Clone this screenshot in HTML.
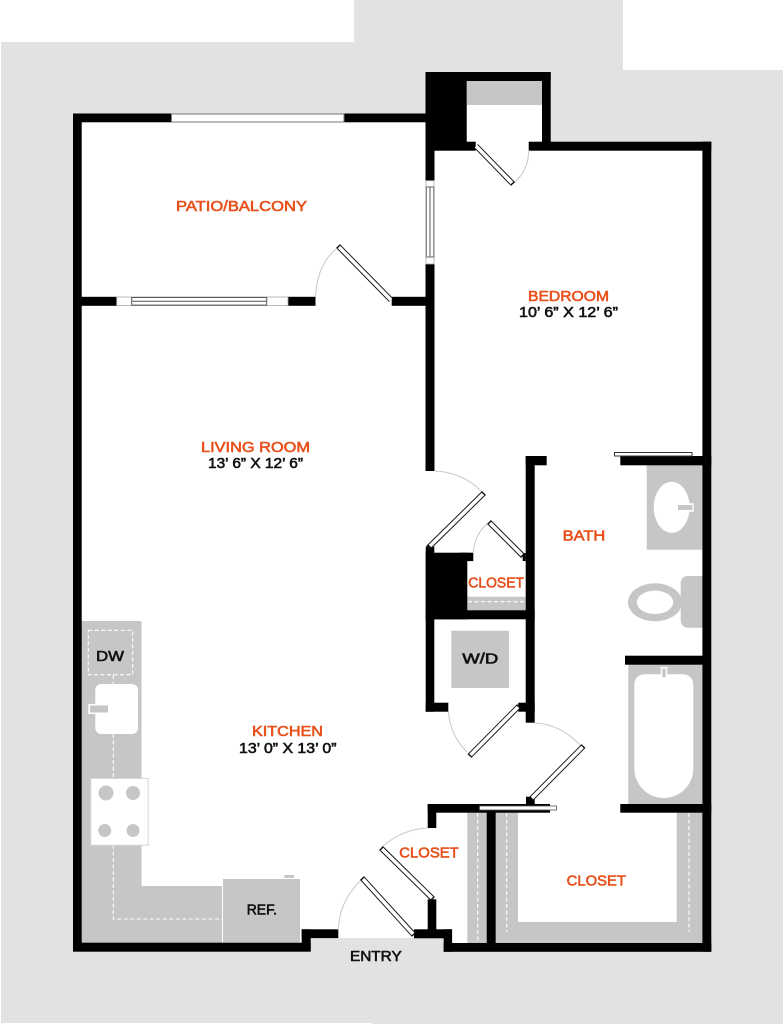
<!DOCTYPE html>
<html><head><meta charset="utf-8"><style>
html,body{margin:0;padding:0;background:#fff}
svg{display:block}
text{font-family:"Liberation Sans",sans-serif;font-size:14.5px;stroke-width:.6px}
.o{fill:#e8501c;stroke:#e8501c}
.k{fill:#111;stroke:#111}
.b{fill:#000}
.g{fill:#c6c6c6}
.w{fill:#fff}
.d{fill:none;stroke:#fff;stroke-width:1.1;stroke-dasharray:4 2.5}
.a{fill:none;stroke:#c8c8c8;stroke-width:1}
.l1{stroke:#111;stroke-width:5.5}
.l2{stroke:#fff;stroke-width:3.6}
</style></head><body>
<svg width="784" height="1024" viewBox="0 0 784 1024" xmlns="http://www.w3.org/2000/svg">
<rect width="784" height="1024" fill="#fff"/>
<rect x="1" y="0" width="782" height="1023" fill="#e2e2e2"/>
<rect x="372" y="1023" width="411" height="1" fill="#e2e2e2"/>
<rect x="0" y="0" width="354" height="42" fill="#fff"/>
<rect x="623" y="0" width="161" height="70" fill="#fff"/>

<!-- interior floor -->
<path class="w" d="M81 122H426V150H467V81H542V150H703V943H452V930H415V938H338V930H310V943H81Z"/>

<!-- kitchen counter -->
<path class="g" d="M81.5 621H141.5V886H224V943H81.5Z"/>
<rect x="222.5" y="878.5" width="78" height="64.5" class="g" stroke="#fff" stroke-width="1"/>
<rect x="284.3" y="875" width="9.7" height="3" class="g"/>
<rect x="88.3" y="630.3" width="44.4" height="44.4" class="d"/>
<path class="d" d="M113.3 675V684M113.3 734V778M113.3 845V919H223"/>
<rect x="95.3" y="684" width="42.7" height="50" rx="6" class="w"/>
<rect x="88.3" y="704" width="20" height="10" class="w"/>
<rect x="90" y="705.5" width="18" height="7" class="g"/>
<rect x="90.8" y="778.5" width="57.4" height="66.7" class="w" stroke="#d6d6d6" stroke-width="1"/>
<circle cx="106" cy="793" r="7.5" class="g"/>
<circle cx="133" cy="793" r="7" class="g"/>
<circle cx="104.7" cy="830.5" r="6.5" class="g"/>
<circle cx="133" cy="830.5" r="6.5" class="g"/>

<!-- top closet -->
<rect x="467" y="81" width="75" height="24" class="g"/>

<!-- small closet -->
<rect x="467.3" y="596.7" width="58.4" height="14" class="g"/>
<path class="d" d="M468 601.7H525"/>
<rect x="451.3" y="630.7" width="57.7" height="57.3" class="g"/>

<!-- sink -->
<rect x="646.7" y="465" width="55.6" height="84.7" class="g"/>
<ellipse cx="671.7" cy="507.3" rx="18" ry="25.5" class="w"/>
<rect x="676.7" y="503.3" width="17" height="8.4" class="w"/>
<rect x="678" y="505" width="14.5" height="5" class="g"/>

<!-- toilet -->
<rect x="680.7" y="576" width="30" height="51.7" rx="7" class="g"/>
<ellipse cx="655" cy="602.3" rx="27" ry="19" class="g"/>
<ellipse cx="655" cy="602.3" rx="18.2" ry="11.7" class="w"/>

<!-- tub -->
<rect x="628.3" y="664" width="74" height="140" class="g"/>
<path class="w" d="M634.3 686Q634.3 674.3 646 674.3H682Q693.3 674.3 693.3 686V768.5A29.5 29.5 0 0 1 634.3 768.5Z"/>
<rect x="660.7" y="667" width="6.5" height="11.7" class="w"/>
<rect x="662.3" y="668.5" width="3.4" height="8.7" class="g"/>

<!-- closet shelves bottom -->
<rect x="467.3" y="812.5" width="19.5" height="130.5" class="g"/>
<path class="g" d="M495.7 812.5H518V922H676.7V812.5H702.5V943H495.7Z"/>
<path class="d" d="M477.7 813V943M506.7 813V932M689 813V932"/>

<!-- entry gray -->
<rect x="310.5" y="938" width="133.5" height="14" fill="#e2e2e2"/>

<!-- walls -->
<g class="b">
<rect x="73" y="113.5" width="8.7" height="838"/>
<rect x="73" y="113.5" width="98.7" height="8.8"/>
<rect x="343.7" y="113.5" width="82" height="8.8"/>
<rect x="81" y="296.8" width="35.7" height="9"/>
<rect x="288" y="296.8" width="27.5" height="9"/>
<rect x="391.7" y="296.8" width="34" height="9"/>
<rect x="425.5" y="72" width="41.2" height="78.5"/>
<rect x="425.5" y="72" width="125.2" height="9"/>
<rect x="542" y="72" width="8.7" height="78.5"/>
<rect x="425.5" y="141.7" width="50.2" height="9"/>
<rect x="528.7" y="141.7" width="182.6" height="9"/>
<rect x="702.4" y="141.7" width="8.9" height="810"/>
<rect x="425.5" y="150" width="9" height="30.7"/>
<rect x="425.5" y="264" width="9" height="207"/>
<!-- closet block -->
<rect x="425.7" y="546.7" width="8.6" height="73"/>
<rect x="425.7" y="552.7" width="41.6" height="66.6"/>
<rect x="460" y="552.7" width="13.3" height="8.4"/>
<rect x="425.7" y="610.3" width="109" height="9"/>
<rect x="522.7" y="553" width="3" height="8"/>
<rect x="425.7" y="619" width="8.6" height="92.7"/>
<rect x="425.7" y="702.7" width="22.6" height="9"/>
<rect x="518.3" y="702.7" width="16.4" height="9"/>
<!-- bath wall -->
<rect x="525.7" y="456" width="9" height="266.7"/>
<rect x="525.7" y="456" width="21" height="9.3"/>
<rect x="620.3" y="456" width="91" height="9.3"/>
<rect x="625" y="655.7" width="86" height="9"/>
<!-- lower -->
<rect x="427.7" y="804" width="122.3" height="8.7"/>
<rect x="427.7" y="804" width="8.6" height="24"/>
<rect x="526" y="796.7" width="8.7" height="8"/>
<rect x="620.3" y="804" width="91" height="8.7"/>
<rect x="486.7" y="812" width="9" height="132"/>
<rect x="427.7" y="899.3" width="8.6" height="31"/>
<rect x="414" y="929.3" width="38" height="9"/>
<rect x="443.7" y="929.3" width="8.4" height="22.4"/>
<rect x="443.7" y="943" width="267.6" height="8.8"/>
<rect x="73" y="942.7" width="237.7" height="9"/>
<rect x="301.7" y="929.3" width="9" height="22"/>
<rect x="301.7" y="929.3" width="36.6" height="8.8"/>
</g>

<!-- windows -->
<rect x="171.5" y="114" width="172.5" height="8" fill="#fff" stroke="#777" stroke-width="1"/>
<rect x="116.7" y="297" width="171.3" height="8.6" fill="#fff" stroke="#aaa" stroke-width=".8"/>
<rect x="131.7" y="297.5" width="135" height="7.6" fill="#fff" stroke="#555" stroke-width="1"/>
<path d="M131.7 301.3H266.7" stroke="#555" stroke-width="1"/>
<rect x="426" y="180.7" width="8" height="83.3" fill="#fff" stroke="#aaa" stroke-width=".8"/>
<rect x="426.3" y="187" width="7.5" height="70" fill="#fff" stroke="#666" stroke-width="1"/>
<path d="M430 187V257" stroke="#555" stroke-width="1"/>
<rect x="614.5" y="452.5" width="77.5" height="3.5" fill="#fff" stroke="#333" stroke-width="1"/>
<rect x="479.5" y="806" width="77" height="4" fill="#fff" stroke="#555" stroke-width=".8"/>

<!-- door arcs -->
<path class="a" d="M315.5 297Q317 265 336 249"/>
<path class="a" d="M528.7 150Q529 170 513 184"/>
<path class="a" d="M434 471Q463 472 482 492"/>
<path class="a" d="M473.3 553Q474 535 488 523"/>
<path class="a" d="M448.5 711.7Q450 735 467 752"/>
<path class="a" d="M534.7 723Q560 724 580 745"/>
<path class="a" d="M427.7 828Q403 829 383 846"/>
<path class="a" d="M338.3 930Q339 902 361 880"/>

<!-- door leaves -->
<line class="l1" x1="391" y1="300" x2="338" y2="246"/><line class="l2" x1="391" y1="300" x2="339" y2="247"/>
<line class="l1" x1="476" y1="146" x2="513" y2="184"/><line class="l2" x1="476" y1="146" x2="512" y2="183"/>
<line class="l1" x1="428" y1="548" x2="484" y2="493"/><line class="l2" x1="430" y1="546" x2="483" y2="494"/>
<line class="l1" x1="523" y1="556" x2="489" y2="522"/><line class="l2" x1="522" y1="555" x2="490" y2="523"/>
<line class="l1" x1="519" y1="706" x2="469.5" y2="756"/><line class="l2" x1="518" y1="707" x2="470.5" y2="755"/>
<line class="l1" x1="531" y1="799" x2="583.5" y2="746"/><line class="l2" x1="532" y1="798" x2="582.5" y2="747"/>
<line class="l1" x1="433" y1="899" x2="381" y2="848"/><line class="l2" x1="432" y1="898" x2="382" y2="849"/>
<line class="l1" x1="414" y1="935" x2="362" y2="878"/><line class="l2" x1="413" y1="934" x2="363" y2="879"/>

<!-- labels -->
<text class="o" x="176" y="211" textLength="131" lengthAdjust="spacingAndGlyphs">PATIO/BALCONY</text>
<text class="o" x="528" y="301" textLength="81" lengthAdjust="spacingAndGlyphs">BEDROOM</text>
<text class="k" x="519" y="317" textLength="99" lengthAdjust="spacingAndGlyphs">10’ 6” X 12’ 6”</text>
<text class="o" x="201" y="452" textLength="109" lengthAdjust="spacingAndGlyphs">LIVING ROOM</text>
<text class="k" x="208" y="468" textLength="95" lengthAdjust="spacingAndGlyphs">13’ 6” X 12’ 6”</text>
<text class="o" x="252" y="736" textLength="71" lengthAdjust="spacingAndGlyphs">KITCHEN</text>
<text class="k" x="239" y="753" textLength="97.5" lengthAdjust="spacingAndGlyphs">13’ 0” X 13’ 0”</text>
<text class="o" x="562.7" y="540.7" textLength="42.6" lengthAdjust="spacingAndGlyphs">BATH</text>
<text class="o" x="468.3" y="587.3" textLength="55.7" lengthAdjust="spacingAndGlyphs">CLOSET</text>
<text class="o" x="399.3" y="857.7" textLength="59.4" lengthAdjust="spacingAndGlyphs">CLOSET</text>
<text class="o" x="566.7" y="885.7" textLength="59.3" lengthAdjust="spacingAndGlyphs">CLOSET</text>
<text class="k" x="462.3" y="663.3" textLength="36" lengthAdjust="spacingAndGlyphs">W/D</text>
<text class="k" x="96" y="661" textLength="28" lengthAdjust="spacingAndGlyphs">DW</text>
<text class="k" x="246.7" y="914.7" textLength="30.3" lengthAdjust="spacingAndGlyphs">REF.</text>
<text class="k" x="350" y="961" textLength="51.7" lengthAdjust="spacingAndGlyphs">ENTRY</text>
</svg>
</body></html>
